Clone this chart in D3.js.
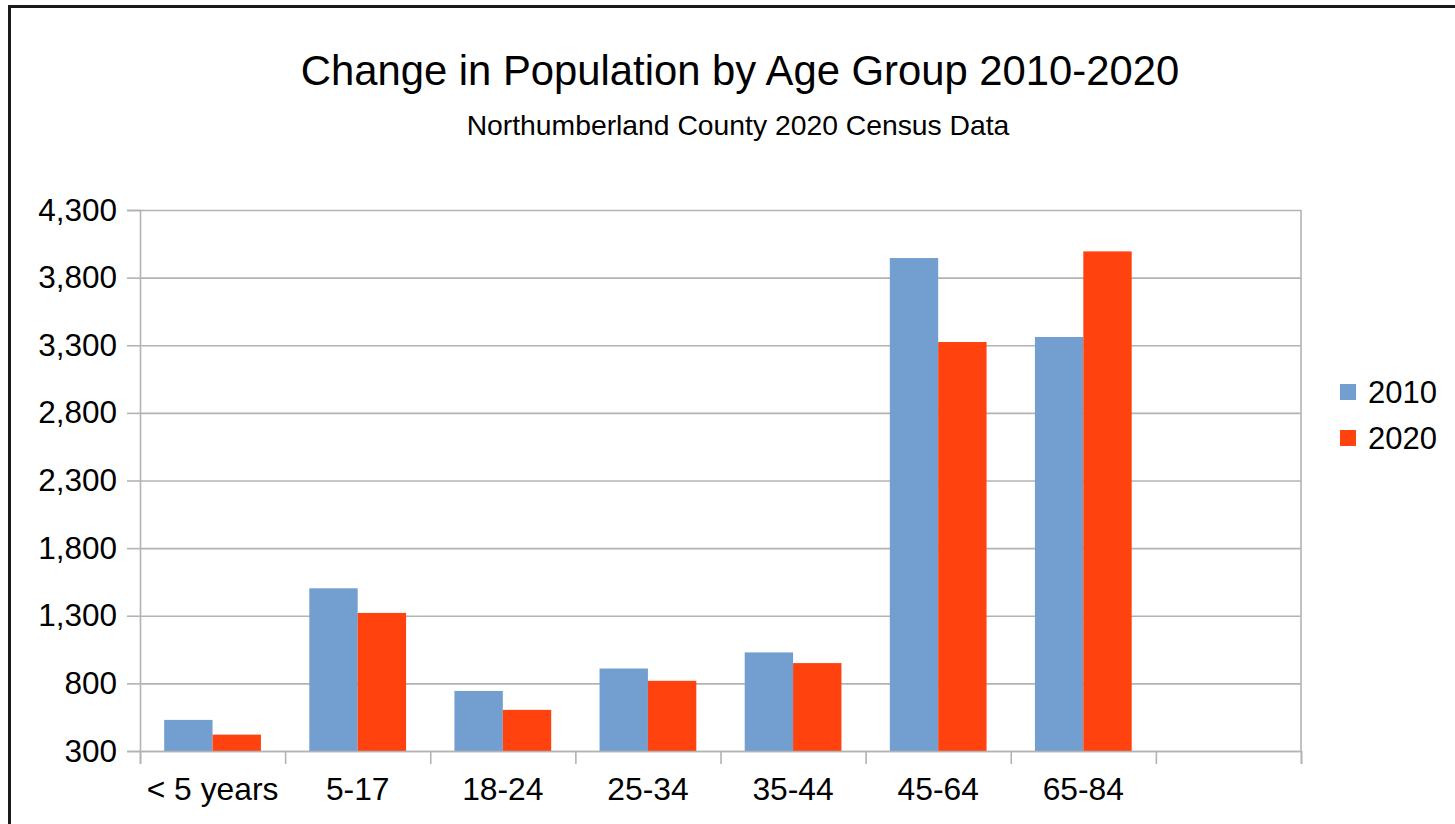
<!DOCTYPE html>
<html>
<head>
<meta charset="utf-8">
<script src="https://cdn.jsdelivr.net/npm/d3@7"></script>
<style>
    body { margin: 0; background: #fff; }
    text { font-family: "Liberation Sans", Arial, sans-serif; fill: #000; }
</style>
</head>
<body>
<svg width="1455" height="824"></svg>
<script>
var categories = ["< 5 years", "5-17", "18-24", "25-34", "35-44", "45-64", "65-84", ""]
var series = ["2010", "2020"]
var values2010 = [530, 1503, 744, 910, 1029, 3945, 3361]
var values2020 = [421, 1321, 604, 819, 950, 3324, 3994]
var yTicks = [300, 800, 1300, 1800, 2300, 2800, 3300, 3800, 4300]
var colors = ["#729fcf", "#ff420e"]

var svg = d3.select("svg")

// frame round the chart (runs past the picture on right and bottom)
svg.append("rect")
    .attr("x", 9.5).attr("y", 6.5)
    .attr("width", 1600).attr("height", 1000)
    .attr("fill", "none").attr("stroke", "#1a1a1a").attr("stroke-width", 3)

var x0 = 140, x1 = 1301, yTop = 210, yBot = 751

var scX = d3.scaleBand().domain(categories).range([x0, x1])
var scIdx = d3.scaleLinear().domain([0, categories.length]).range([x0, x1])
var scY = d3.scaleLinear().domain([300, 4300]).range([yBot, yTop])
var bw = scX.bandwidth()
var scS = d3.scaleBand().domain(series).range([bw / 6, bw * 5 / 6])

// grid lines
svg.append("g")
    .attr("transform", `translate(${x0}, 0)`)
    .call(d3.axisLeft(scY).tickValues(yTicks).tickSize(-(x1 - x0)).tickFormat(""))
    .call(g => g.select(".domain").remove())
    .selectAll("line").attr("stroke", "#b3b3b3").attr("stroke-width", 1.6)

// y axis with labels
svg.append("g")
    .attr("transform", `translate(${x0}, 0)`)
    .call(d3.axisLeft(scY).tickValues(yTicks).tickSize(13).tickPadding(10)
        .tickFormat(d3.format(",")))
    .call(g => g.select(".domain").attr("stroke", "#b3b3b3").attr("stroke-width", 1.6))
    .call(g => g.selectAll("line").attr("stroke", "#b3b3b3").attr("stroke-width", 1.6))
    .call(g => g.selectAll("text").attr("font-size", 31.5).attr("fill", "#000"))

// right edge of the plot
svg.append("line")
    .attr("x1", x1).attr("x2", x1).attr("y1", yTop).attr("y2", yBot)
    .attr("stroke", "#b3b3b3").attr("stroke-width", 1.6)

// bars
var data = categories.slice(0, 7).map((c, i) => ({cat: c, v: [values2010[i], values2020[i]]}))

var groups = svg.append("g").selectAll("g").data(data).enter()
    .append("g").attr("transform", d => `translate(${scX(d.cat)}, 0)`)

groups.selectAll("rect")
    .data(d => series.map((s, j) => ({s: s, v: d.v[j], j: j})))
    .enter().append("rect")
    .attr("x", d => scS(d.s))
    .attr("width", scS.bandwidth())
    .attr("y", d => scY(d.v))
    .attr("height", d => scY(300) - scY(d.v))
    .attr("fill", d => colors[d.j])

// x axis ticks at band edges
svg.append("g")
    .attr("transform", `translate(0, ${yBot})`)
    .call(d3.axisBottom(scIdx).tickValues(d3.range(0, categories.length + 1)).tickSize(13).tickFormat(""))
    .call(g => g.select(".domain").attr("stroke", "#b3b3b3").attr("stroke-width", 1.6))
    .call(g => g.selectAll("line").attr("stroke", "#b3b3b3").attr("stroke-width", 1.6))

// x labels at band centres
svg.append("g")
    .attr("transform", `translate(0, ${yBot})`)
    .call(d3.axisBottom(scX).tickSize(0).tickPadding(26))
    .call(g => g.select(".domain").remove())
    .call(g => g.selectAll("text").attr("font-size", 31.8).attr("fill", "#000"))

// title
svg.append("text")
    .attr("x", 740).attr("y", 85)
    .attr("text-anchor", "middle").attr("font-size", 41.8)
    .text("Change in Population by Age Group 2010-2020")

svg.append("text")
    .attr("x", 738).attr("y", 135)
    .attr("text-anchor", "middle").attr("font-size", 28.3)
    .text("Northumberland County 2020 Census Data")

// legend
var leg = svg.append("g").selectAll("g").data(series).enter()
    .append("g").attr("transform", (d, i) => `translate(1340, ${392 + i * 46})`)

leg.append("rect")
    .attr("x", 0).attr("y", -8).attr("width", 16).attr("height", 16)
    .attr("fill", (d, i) => colors[i])

leg.append("text")
    .attr("x", 28).attr("y", 11)
    .attr("font-size", 31)
    .text(d => d)
</script>
</body>
</html>
